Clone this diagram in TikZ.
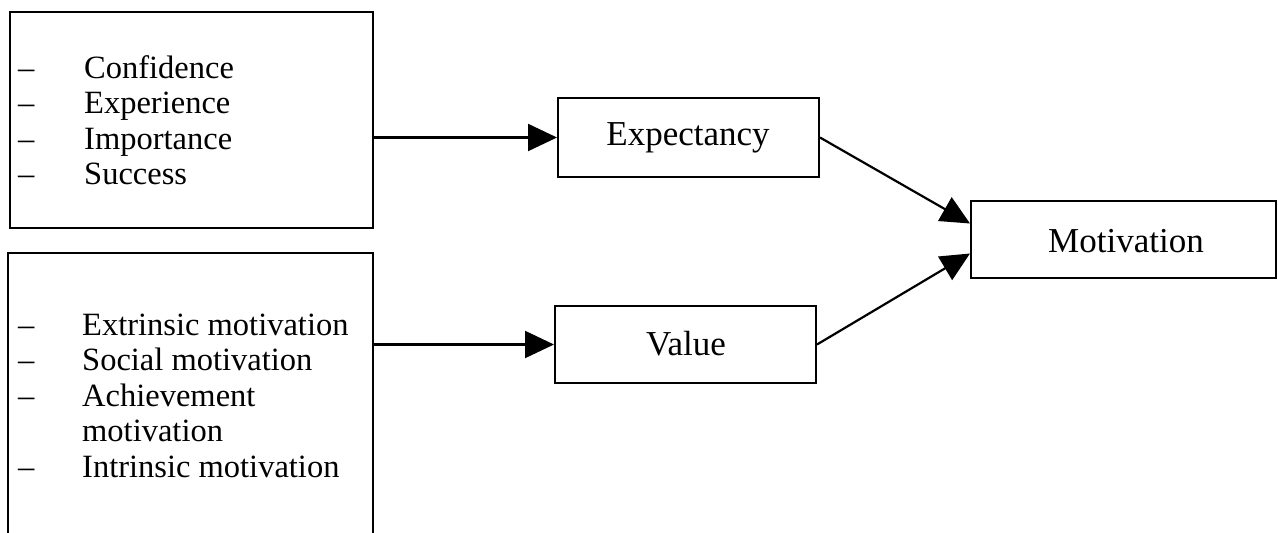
\documentclass[tikz,border=0pt]{standalone}
\usepackage{fontspec}
\setmainfont{Liberation Serif}
\usetikzlibrary{arrows.meta}
\begin{document}
\begin{tikzpicture}[x=1pt,y=-1pt,
  box/.style={draw=black,line width=2pt,rectangle,inner sep=0pt},
  boxlabel/.style={font=\fontsize{35}{40}\selectfont,anchor=base,inner sep=0pt},
  item/.style={font=\fontsize{32.5}{36}\selectfont,anchor=base west,inner sep=0pt},
  conn/.style={draw=black,line width=2.2pt,-{Triangle[length=29pt,width=27pt]}}]
\useasboundingbox (0,0) rectangle (1278,533);
\clip (0,0) rectangle (1278,533);
% source boxes
\node[box,minimum width=363pt,minimum height=216pt] (src1) at (191.5,120) {};
\node[box,minimum width=365pt,minimum height=307pt] (src2) at (190.5,406.5) {};
% target boxes
\node[box,minimum width=261pt,minimum height=79pt] (exp) at (688.5,137.5) {};
\node[box,minimum width=261pt,minimum height=77pt] (val) at (685.5,344.5) {};
\node[box,minimum width=305pt,minimum height=77pt] (mot) at (1123.5,239.5) {};
\node[boxlabel] (explab) at (688,145) {Expectancy};
\node[boxlabel] (vallab) at (686,355) {Value};
\node[boxlabel] (motlab) at (1126,252) {Motivation};
% top list
\node[item] (d1) at (18,78) {–};
\node[item] (t1) at (84,78) {Confidence};
\node[item] (d2) at (18,113.5) {–};
\node[item] (t2) at (84,113.5) {Experience};
\node[item] (d3) at (18,149) {–};
\node[item] (t3) at (84,149) {Importance};
\node[item] (d4) at (18,184.5) {–};
\node[item] (t4) at (84,184.5) {Success};
% bottom list
\node[item] (e1) at (18,335) {–};
\node[item] (b1) at (82,335) {Extrinsic motivation};
\node[item] (e2) at (18,370.5) {–};
\node[item] (b2) at (82,370.5) {Social motivation};
\node[item] (e3) at (18,406) {–};
\node[item] (b3) at (82,406) {Achievement};
\node[item] (b4) at (82,441.5) {motivation};
\node[item] (e5) at (18,477) {–};
\node[item] (b5) at (82,477) {Intrinsic motivation};
% connectors
\draw[conn] (src1.east |- exp.west) -- (exp.west);
\draw[conn] (src2.east |- val.west) -- (val.west);
\draw[conn] (exp.east) -- ([yshift=16pt]mot.west);
\draw[conn] (val.east) -- ([yshift=-14pt]mot.west);
\end{tikzpicture}
\end{document}
